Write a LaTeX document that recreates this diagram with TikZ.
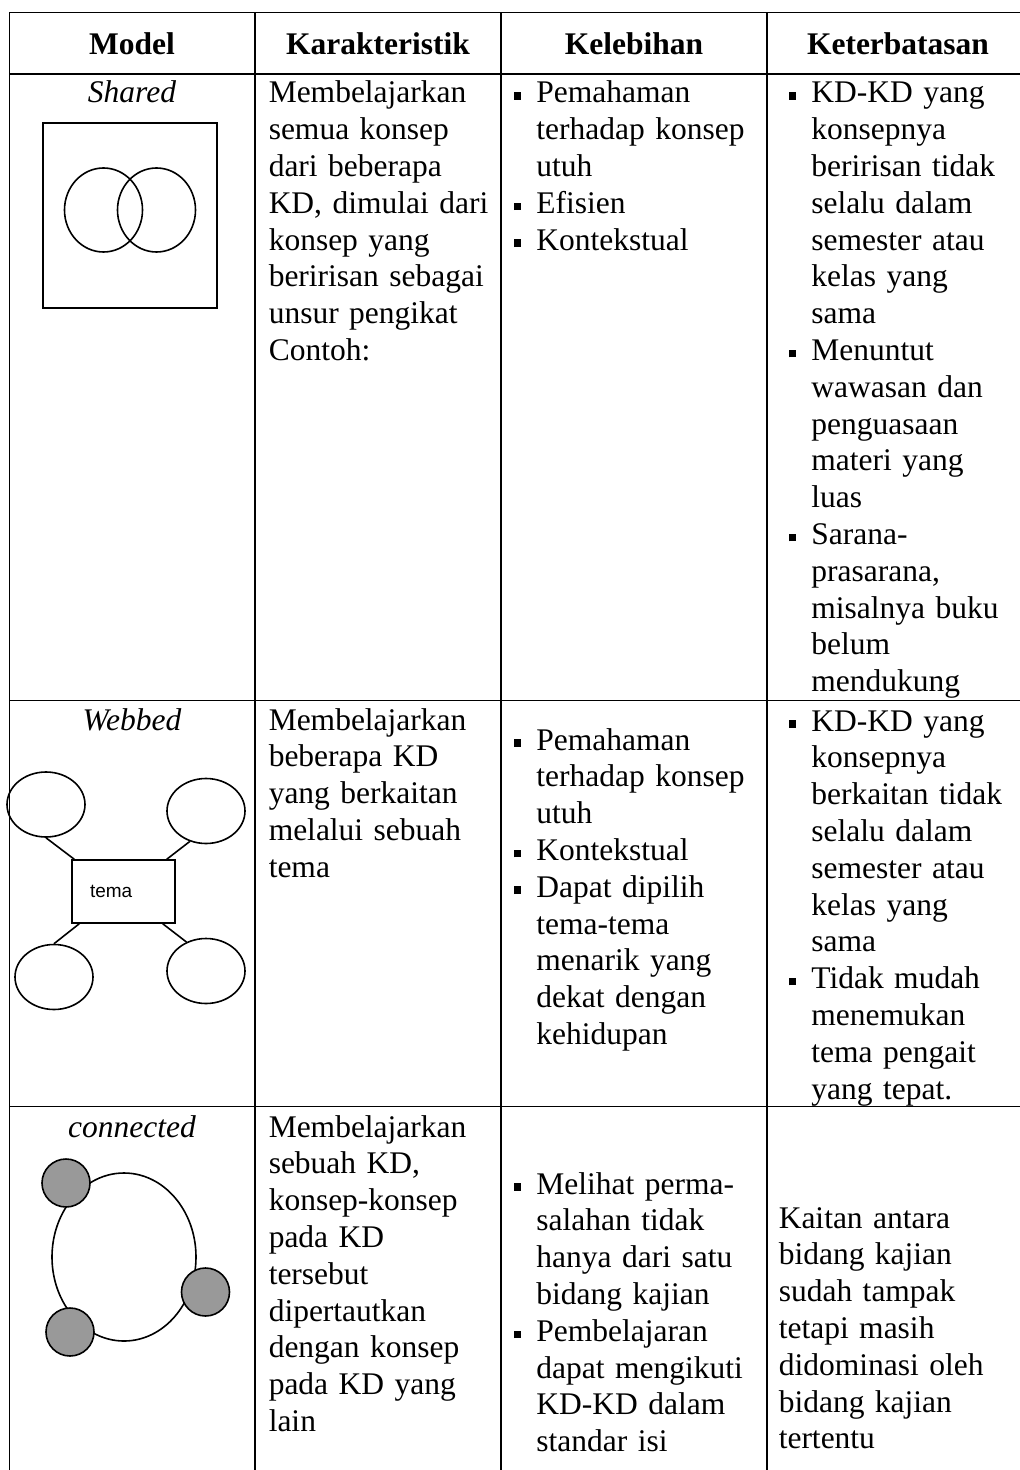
\documentclass[tikz,border=0pt]{standalone}
\usepackage{fontspec}
\setmainfont{Liberation Serif}
\newfontfamily\temafont{Liberation Sans}
\usepackage{tikz}
\usetikzlibrary{shapes.geometric}
\definecolor{kdgray}{HTML}{999999}
\newcommand{\sqb}{\makebox[11.3pt][l]{\raisebox{0.1em}{\rule{0.24em}{0.24em}}}}
\newcommand{\ind}{\hspace*{11.3pt}}

\begin{document}
\begin{tikzpicture}[x=0.5pt, y=-0.5pt, line width=0.75pt,
                    every node/.style={inner sep=0pt,
                                  font=\fontsize{15.75pt}{18.4pt}\selectfont},
                    cell/.style={anchor=base west, text width=130pt, align=left},
                    head/.style={anchor=base,
                                  font=\fontsize{15.75pt}{18.4pt}\selectfont\bfseries},
                    modelname/.style={anchor=base,
                                  font=\fontsize{15.75pt}{18.4pt}\selectfont\itshape},
                    figline/.style={draw, line width=0.8pt},
                    vennring/.style={figline, ellipse, minimum width=39pt,
                                  minimum height=42pt},
                    webleaf/.style={figline, ellipse, minimum width=39pt,
                                  minimum height=32.5pt},
                    kdball/.style={figline, circle, fill=kdgray, minimum size=24pt}]
                      \useasboundingbox (0,0) rectangle (1020,1470);

                      \foreach \y in {12.5, 74, 700.5, 1106.5} {
                              \draw (9.5,\y) -- (1020,\y);
                          }
                      \foreach \x in {9.5, 255, 501, 767} {
                              \draw (\x,12.5) -- (\x,1470);
                          }

                      \foreach \x/\t [count=\i] in {132/Model, 378/Karakteristik,
                              634/Kelebihan, 898/Keterbatasan} {
                              \node[head] (H\i) at (\x,55) {\t};
                          }

                      \node[modelname] (M1) at (132,103) {Shared};
                      \node[modelname] (M2) at (132,730) {Webbed};
                      \node[modelname] (M3) at (132,1137) {connected};

                      \node[figline, minimum width=87pt, minimum height=92.5pt] (frame) at (130,215.5) {};
                      \node[vennring] (V1) at (103.5,210) {};
                      \node[vennring] (V2) at (156.5,210) {};

                      \node[figline, minimum height=31.5pt, text width=33.5pt, inner xsep=9pt,
                            align=left, font=\temafont\fontsize{9.5pt}{10pt}\selectfont] (tema) at (123.5,891.5) {tema};
                      \foreach \n/\x/\y in {W1/46/804.5, W2/206/811, W3/54/977, W4/206/971} {
                              \node[webleaf] (\n) at (\x,\y) {};
                          }
                      \draw[figline] (W1.south) -- ([xshift=1.5pt]tema.north west);
                      \draw[figline] (W2.-118) -- ([xshift=-4.5pt]tema.north east);
                      \draw[figline] (W3.north) -- ([xshift=4pt]tema.south west);
                      \draw[figline] (W4.124) -- ([xshift=-6.5pt]tema.south east);

                      \node[figline, ellipse, minimum width=72pt, minimum height=84pt] (ring) at (124,1257) {};
                      \foreach \n/\x/\y in {C1/66/1183, C2/205.5/1292, C3/70/1332} {
                              \node[kdball] (\n) at (\x,\y) {};
                          }

                      \node[cell] (K1) at (268,103) {Membelajarkan\\semua konsep\\dari beberapa\\KD, dimulai dari\\konsep yang\\beririsan sebagai\\unsur pengikat\\Contoh:};
                      \node[cell] (L1) at (513,103) {\sqb Pemahaman\\\ind terhadap konsep\\\ind utuh\\\sqb Efisien\\\sqb Kontekstual};
                      \node[cell] (B1) at (788,103) {\sqb KD-KD yang\\\ind konsepnya\\\ind beririsan tidak\\\ind selalu dalam\\\ind semester atau\\\ind kelas yang\\\ind sama\\\sqb Menuntut\\\ind wawasan dan\\\ind penguasaan\\\ind materi yang\\\ind luas\\\sqb Sarana-\\\ind prasarana,\\\ind misalnya buku\\\ind belum\\\ind mendukung};

                      \node[cell] (K2) at (268,730) {Membelajarkan\\beberapa KD\\yang berkaitan\\melalui sebuah\\tema};
                      \node[cell] (L2) at (513,750) {\sqb Pemahaman\\\ind terhadap konsep\\\ind utuh\\\sqb Kontekstual\\\sqb Dapat dipilih\\\ind tema-tema\\\ind menarik yang\\\ind dekat dengan\\\ind kehidupan};
                      \node[cell] (B2) at (788,731) {\sqb KD-KD yang\\\ind konsepnya\\\ind berkaitan tidak\\\ind selalu dalam\\\ind semester atau\\\ind kelas yang\\\ind sama\\\sqb Tidak mudah\\\ind menemukan\\\ind tema pengait\\\ind yang tepat.};

                      \node[cell] (K3) at (268,1137) {Membelajarkan\\sebuah KD,\\konsep-konsep\\pada KD\\tersebut\\dipertautkan\\dengan konsep\\pada KD yang\\lain};
                      \node[cell] (L3) at (513,1194) {\sqb Melihat perma-\\\ind salahan tidak\\\ind hanya dari satu\\\ind bidang kajian\\\sqb Pembelajaran\\\ind dapat mengikuti\\\ind KD-KD dalam\\\ind standar isi};
                      \node[cell] (B3) at (778,1228) {Kaitan antara\\bidang kajian\\sudah tampak\\tetapi masih\\didominasi oleh\\bidang kajian\\tertentu};
                  \end{tikzpicture}
\end{document}
